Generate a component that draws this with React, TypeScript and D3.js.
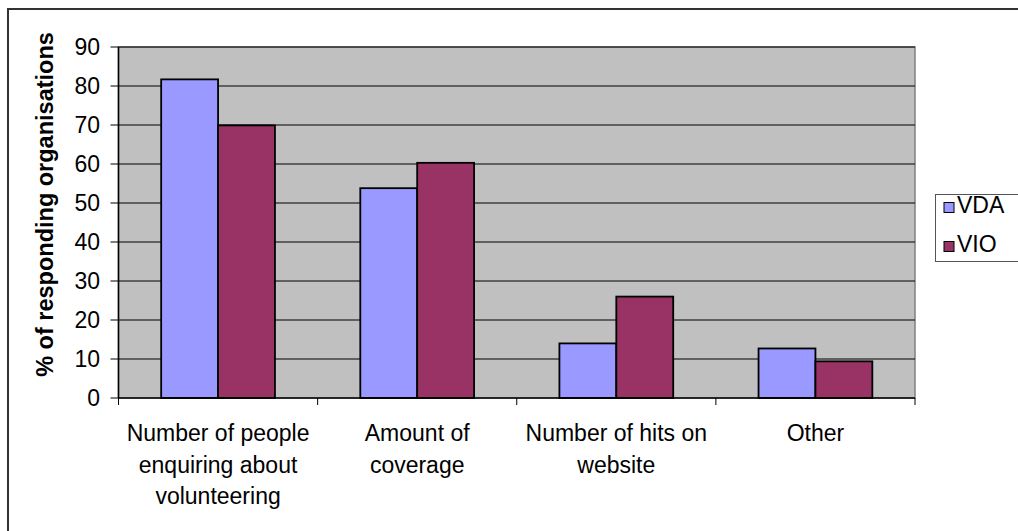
import React from "react";
import * as d3 from "d3";

// Survey categories (each entry is the wrapped label lines)
const categories: string[][] = [
  ["Number of people", "enquiring about", "volunteering"],
  ["Amount of", "coverage"],
  ["Number of hits on", "website"],
  ["Other"],
];
const seriesNames = ["VDA", "VIO"];
const vdaValues = [81.7, 53.8, 14, 12.7];
const vioValues = [69.9, 60.3, 26, 9.4];
const yTicks = [0, 10, 20, 30, 40, 50, 60, 70, 80, 90];

const colors: Record<string, string> = { VDA: "#9999FF", VIO: "#993366" };
const FONT = "Arial, 'Liberation Sans', sans-serif";

export default function App() {
  const W = 1018;
  const H = 531;
  const plot = { left: 118.5, right: 915, top: 47, bottom: 398 };

  const keys = categories.map((c) => c.join(" "));
  const x = d3.scaleBand<string>().domain(keys).range([plot.left, plot.right]).padding(0);
  const xs = d3
    .scaleBand<string>()
    .domain(seriesNames)
    .range([0, x.bandwidth()])
    .paddingInner(0)
    .paddingOuter(0.75);
  const y = d3.scaleLinear().domain([0, 90]).range([plot.bottom, plot.top]);

  const series: Record<string, number[]> = { VDA: vdaValues, VIO: vioValues };
  const boundaries = d3.range(keys.length + 1).map((i) => plot.left + i * x.step());

  return (
    <svg
      width={W}
      height={H}
      style={{ position: "absolute", left: 0, top: 0, background: "#fff" }}
      fontFamily={FONT}
    >
      {/* chart area frame */}
      <rect x={8} y={9} width={W + 20} height={H + 20} fill="#fff" stroke="#333" strokeWidth={2} />

      {/* plot background */}
      <rect
        x={plot.left}
        y={plot.top}
        width={plot.right - plot.left}
        height={plot.bottom - plot.top}
        fill="#C0C0C0"
        stroke="#808080"
        strokeWidth={1.5}
      />

      {/* gridlines */}
      {yTicks.slice(1).map((t) => (
        <line key={t} x1={plot.left} x2={plot.right} y1={y(t)} y2={y(t)} stroke="#000" strokeWidth={1} />
      ))}

      {/* bars */}
      {keys.map((k, i) =>
        seriesNames.map((s) => (
          <rect
            key={k + s}
            x={(x(k) as number) + (xs(s) as number)}
            y={y(series[s][i])}
            width={xs.bandwidth()}
            height={plot.bottom - y(series[s][i])}
            fill={colors[s]}
            stroke="#000"
            strokeWidth={1.8}
          />
        ))
      )}

      {/* y axis */}
      <line x1={plot.left} x2={plot.left} y1={plot.top} y2={plot.bottom} stroke="#000" strokeWidth={1.5} />
      {yTicks.map((t) => (
        <g key={t}>
          <line x1={plot.left - 8} x2={plot.left} y1={y(t)} y2={y(t)} stroke="#000" strokeWidth={1} />
          <text x={100} y={y(t)} dy="0.36em" textAnchor="end" fontSize={23} fill="#000">
            {t}
          </text>
        </g>
      ))}

      {/* x axis */}
      <line x1={plot.left} x2={plot.right} y1={plot.bottom} y2={plot.bottom} stroke="#000" strokeWidth={1.5} />
      {boundaries.map((b, i) => (
        <line key={i} x1={b} x2={b} y1={plot.bottom} y2={plot.bottom + 7} stroke="#000" strokeWidth={1} />
      ))}
      {categories.map((lines, i) => (
        <text
          key={i}
          x={(x(keys[i]) as number) + x.bandwidth() / 2}
          textAnchor="middle"
          fontSize={23}
          fill="#000"
        >
          {lines.map((l, j) => (
            <tspan key={j} x={(x(keys[i]) as number) + x.bandwidth() / 2} y={441 + j * 31.5}>
              {l}
            </tspan>
          ))}
        </text>
      ))}

      {/* y axis title */}
      <text
        transform={`translate(53, ${(plot.top + plot.bottom) / 2 - 18}) rotate(-90)`}
        textAnchor="middle"
        fontSize={23.5}
        fontWeight="bold"
        fill="#000"
      >
        % of responding organisations
      </text>

      {/* legend */}
      <rect x={935.5} y={194.5} width={90} height={67} fill="#fff" stroke="#555" strokeWidth={1} />
      {seriesNames.map((s, i) => (
        <g key={s}>
          <rect x={944} y={202.5 + i * 39} width={10} height={10} fill={colors[s]} stroke="#000" strokeWidth={1} />
          <text x={957} y={212.5 + i * 39} fontSize={23} fill="#000">
            {s}
          </text>
        </g>
      ))}
    </svg>
  );
}
